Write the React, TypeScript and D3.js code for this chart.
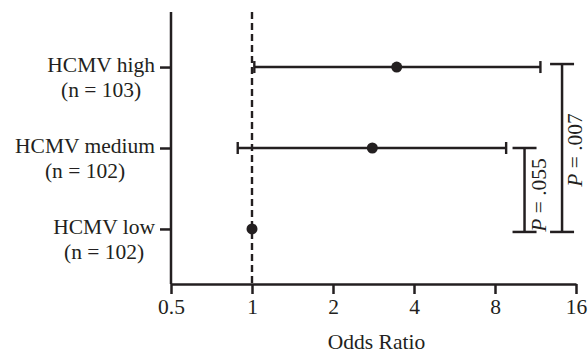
import * as d3 from "d3";
import { useEffect, useRef } from "react";

const categories = ["HCMV high", "HCMV medium", "HCMV low"];
const sampleSizes = [103, 102, 102];
const oddsRatios = [3.45, 2.8, 1];
const ciLower: (number | null)[] = [1.02, 0.885, null];
const ciUpper: (number | null)[] = [11.8, 8.8, null];
const xTicks = [0.5, 1, 2, 4, 8, 16];
const comparisonFrom = ["HCMV medium", "HCMV high"];
const comparisonTo = ["HCMV low", "HCMV low"];
const comparisonP = [".055", ".007"];

const App: React.FC = () => {
  const ref = useRef<SVGSVGElement | null>(null);

  useEffect(() => {
    const width = 588;
    const height = 354;
    const margin = { top: 12, right: 12, bottom: 70, left: 171 };
    const ink = "#231f20";
    const font = "Liberation Serif, serif";
    const fs = "21.5px";

    const svg = d3.select(ref.current);
    svg.selectAll("*").remove();

    const x = d3
      .scaleLog()
      .base(2)
      .domain([0.5, 16])
      .range([margin.left, width - margin.right]);

    const y = d3
      .scalePoint()
      .domain(categories)
      .range([margin.top, height - margin.bottom])
      .padding(0.68);

    const rows = categories.map((c, i) => ({
      name: c,
      n: sampleSizes[i],
      or: oddsRatios[i],
      lo: ciLower[i],
      hi: ciUpper[i],
    }));

    // reference line at OR = 1
    svg
      .append("line")
      .attr("x1", x(1))
      .attr("x2", x(1))
      .attr("y1", margin.top)
      .attr("y2", height - margin.bottom)
      .attr("stroke", ink)
      .attr("stroke-width", 2.4)
      .attr("stroke-dasharray", "7,4");

    // x axis
    const xAxis = svg
      .append("g")
      .attr("transform", `translate(0, ${height - margin.bottom})`)
      .call(
        d3
          .axisBottom(x)
          .tickValues(xTicks)
          .tickFormat((d) => String(d))
          .tickSize(10)
          .tickSizeOuter(0)
          .tickPadding(5)
      );
    xAxis.select(".domain").attr("stroke", ink).attr("stroke-width", 2.5);
    xAxis.selectAll(".tick line").attr("stroke", ink).attr("stroke-width", 2.5);
    xAxis
      .selectAll(".tick text")
      .attr("fill", ink)
      .style("font-family", font)
      .style("font-size", fs);

    svg
      .append("text")
      .attr("x", (x(0.5) + x(16)) / 2 + 3)
      .attr("y", 349)
      .attr("text-anchor", "middle")
      .style("font-family", font)
      .style("font-size", fs)
      .attr("fill", ink)
      .text("Odds Ratio");

    // y axis
    const yAxis = svg
      .append("g")
      .attr("transform", `translate(${margin.left}, 0)`)
      .call(d3.axisLeft(y).tickSize(11).tickSizeOuter(0).tickFormat(() => ""));
    yAxis
      .select(".domain")
      .attr("stroke", ink)
      .attr("stroke-width", 2.5)
      .attr("d", `M0,${margin.top}V${height - margin.bottom}`);
    yAxis.selectAll(".tick line").attr("stroke", ink).attr("stroke-width", 2.5);

    // row labels, two lines centred on each other
    rows.forEach((r) => {
      const yy = y(r.name)!;
      const g = svg
        .append("g")
        .style("font-family", font)
        .style("font-size", fs)
        .attr("fill", ink);
      const first = g
        .append("text")
        .attr("x", margin.left - 16)
        .attr("y", yy + 5)
        .attr("text-anchor", "end")
        .text(r.name);
      const w = (first.node() as SVGTextElement).getComputedTextLength();
      g.append("text")
        .attr("x", margin.left - 16 - w / 2)
        .attr("y", yy + 30)
        .attr("text-anchor", "middle")
        .text(`(n = ${r.n})`);
    });

    // confidence intervals
    const ci = rows.filter((r) => r.lo != null && r.hi != null);
    svg
      .selectAll(".ci")
      .data(ci)
      .enter()
      .append("line")
      .attr("x1", (d) => x(d.lo!))
      .attr("x2", (d) => x(d.hi!))
      .attr("y1", (d) => y(d.name)!)
      .attr("y2", (d) => y(d.name)!)
      .attr("stroke", ink)
      .attr("stroke-width", 2.4);
    ["lo", "hi"].forEach((k) => {
      svg
        .selectAll(`.cap-${k}`)
        .data(ci)
        .enter()
        .append("line")
        .attr("x1", (d) => x((d as any)[k]))
        .attr("x2", (d) => x((d as any)[k]))
        .attr("y1", (d) => y(d.name)! - 6)
        .attr("y2", (d) => y(d.name)! + 6)
        .attr("stroke", ink)
        .attr("stroke-width", 2.4);
    });

    svg
      .selectAll(".pt")
      .data(rows)
      .enter()
      .append("circle")
      .attr("cx", (d) => x(d.or))
      .attr("cy", (d) => y(d.name)!)
      .attr("r", 5.5)
      .attr("fill", ink);

    // comparison brackets
    const bracketX = [10.3, 14.2];
    const labelDx = [21, 20];
    const labelDy = [5, 2];
    comparisonP.forEach((p, i) => {
      const bx = x(bracketX[i]);
      const top = y(comparisonFrom[i])! - (i === 1 ? 3 : 0);
      const bottom = y(comparisonTo[i])! + 3;
      const g = svg.append("g").attr("stroke", ink).attr("stroke-width", 2.5);
      g.append("line").attr("x1", bx).attr("x2", bx).attr("y1", top).attr("y2", bottom);
      g.append("line").attr("x1", bx - 12).attr("x2", bx + 12).attr("y1", top).attr("y2", top);
      g.append("line").attr("x1", bx - 12).attr("x2", bx + 12).attr("y1", bottom).attr("y2", bottom);

      const t = svg
        .append("text")
        .attr(
          "transform",
          `translate(${bx + labelDx[i]}, ${(top + bottom) / 2 + labelDy[i]}) rotate(-90)`
        )
        .attr("text-anchor", "middle")
        .style("font-family", font)
        .style("font-size", fs)
        .attr("fill", ink);
      t.append("tspan").style("font-style", "italic").text("P");
      t.append("tspan").text(` = ${p}`);
    });
  }, []);

  return (
    <svg
      ref={ref}
      width={588}
      height={354}
      style={{ position: "absolute", left: 0, top: 0, background: "#fff" }}
    />
  );
};

export default App;
